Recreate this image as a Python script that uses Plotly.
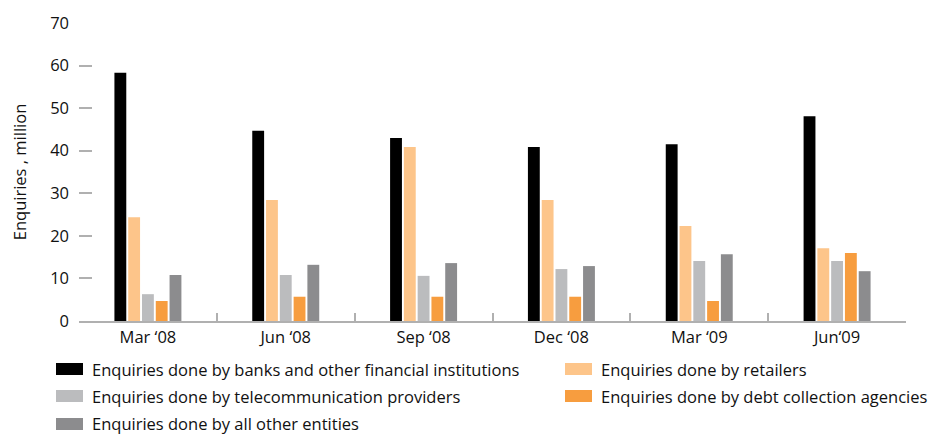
import plotly.graph_objects as go

quarters = ["Mar ‘08", "Jun ‘08", "Sep ‘08", "Dec ‘08", "Mar ‘09", "Jun‘09"]

series_names = [
    "Enquiries done by banks and other financial institutions",
    "Enquiries done by retailers",
    "Enquiries done by telecommunication providers",
    "Enquiries done by debt collection agencies",
    "Enquiries done by all other entities",
]
banks = [58.3, 44.7, 43.0, 40.9, 41.5, 48.1]
retailers = [24.4, 28.4, 40.9, 28.4, 22.3, 17.1]
telecom = [6.3, 10.8, 10.6, 12.2, 14.1, 14.1]
debt_collection = [4.7, 5.7, 5.7, 5.7, 4.7, 16.0]
other = [10.8, 13.2, 13.6, 12.9, 15.7, 11.7]

colors = ["#000000", "#FDC58A", "#BBBCBE", "#F79D3F", "#8C8C8E"]
y_ticks = [0, 10, 20, 30, 40, 50, 60, 70]

W, H = 935, 434
L, R, T, B = 79, 29, 23, 113
PW, PH = W - L - R, H - T - B
FONT = "Open Sans"


def px(x):
    return (x - L) / PW


def py(y):
    return (H - B - y) / PH


fig = go.Figure()
for name, vals, col in zip(series_names, [banks, retailers, telecom, debt_collection, other], colors):
    fig.add_trace(
        go.Bar(
            name=name,
            x=quarters,
            y=vals,
            marker={"color": col, "line": {"width": 0}},
            showlegend=False,
        )
    )

# Hand-built legend: two columns, wide swatches
legend_slots = [(56, 369), (565, 369), (56, 396), (565, 396), (56, 424)]
for (sx, sy), name, col in zip(legend_slots, series_names, colors):
    fig.add_shape(
        type="rect", xref="paper", yref="paper",
        x0=px(sx), x1=px(sx + 27), y0=py(sy - 6), y1=py(sy + 6),
        fillcolor=col, line={"width": 0},
    )
    fig.add_annotation(
        xref="paper", yref="paper", x=px(sx + 34), y=py(sy),
        text=name, showarrow=False, xanchor="left", yanchor="middle",
        font={"family": FONT, "size": 16.5, "color": "#111111"},
    )

fig.update_layout(
    width=W,
    height=H,
    margin={"l": L, "r": R, "t": T, "b": B, "pad": 0},
    barmode="group",
    bargap=0.5,
    bargroupgap=0.14,
    paper_bgcolor="white",
    plot_bgcolor="white",
    font={"family": FONT, "size": 16.5, "color": "#111111"},
    xaxis={
        "type": "category",
        "showline": True,
        "linecolor": "#b0b0b0",
        "linewidth": 2,
        "ticks": "inside",
        "tickson": "boundaries",
        "ticklen": 8,
        "tickcolor": "#b0b0b0",
        "tickwidth": 2,
        "showgrid": False,
        "tickfont": {"size": 16.5},
    },
    yaxis={
        "range": [0, 70],
        "tickvals": y_ticks,
        "ticks": "inside",
        "ticklen": 13,
        "tickcolor": "#b0b0b0",
        "tickwidth": 2,
        "showgrid": False,
        "zeroline": False,
        "showline": False,
        "ticklabelstandoff": 9,
        "tickfont": {"size": 16.5},
        "title": {"text": "Enquiries , million", "font": {"size": 16.5}, "standoff": 19},
    },
)

fig.write_html(
    "out.html",
    config={"displayModeBar": False},
    post_script="document.body.style.margin='0';",
)
